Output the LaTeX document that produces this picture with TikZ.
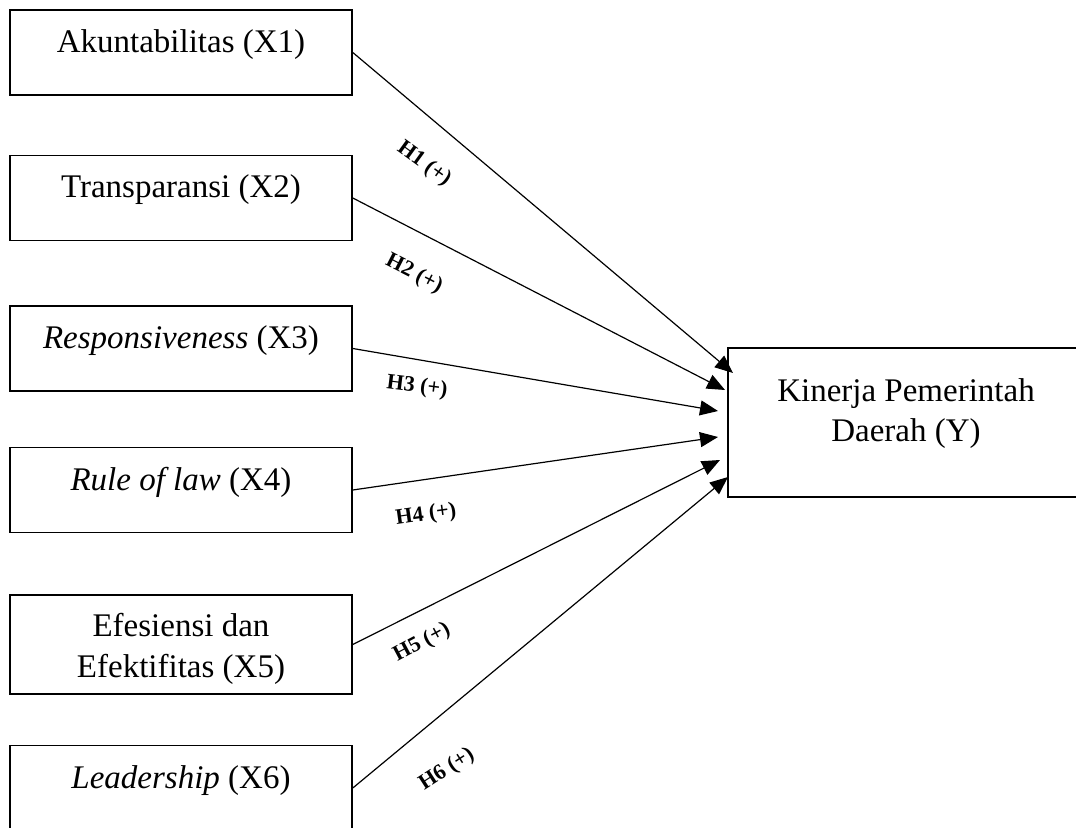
\documentclass[tikz,border=0pt]{standalone}
\usepackage{fontspec}
\setmainfont{Liberation Serif}
\usetikzlibrary{arrows.meta}
\begin{document}
\begin{tikzpicture}[x=0.5pt,y=-0.5pt,
    varbox/.style={rectangle, draw, line width=0.8pt, inner sep=0pt,
        minimum width=171pt, minimum height=42.5pt,
        font=\fontsize{16.5}{20.5}\selectfont, text height=8pt, text depth=8pt},
    hyp/.style={font=\fontsize{11}{13}\selectfont\bfseries, inner sep=0.5pt},
    link/.style={-{Triangle[length=9pt,width=7.5pt]}, line width=0.6pt}]
    \useasboundingbox (0,0) rectangle (1076,828);
    \node[varbox] (akun) at (181,52.5) {Akuntabilitas (X1)};
    \node[varbox] (trans) at (181,198) {Transparansi (X2)};
    \node[varbox] (resp) at (181,348.5) {\textit{Responsiveness} (X3)};
    \node[varbox] (rule) at (181,490) {\textit{Rule of law} (X4)};
    \node[varbox, minimum height=49.5pt, align=center,
        text height=32.5pt, text depth=0pt] (efis) at (181,644.5) {Efesiensi dan\\Efektifitas (X5)};
    \node[varbox] (lead) at (181,788) {\textit{Leadership} (X6)};
    \node[varbox, minimum width=178pt, minimum height=74.5pt, align=center,
        text height=20pt, text depth=0.5pt] (kinerja) at (906,422.5) {Kinerja Pemerintah\\Daerah (Y)};
    \coordinate (in1) at (733,373);
    \coordinate (in2) at (725,390);
    \coordinate (in3) at (718,411);
    \coordinate (in4) at (718,437);
    \coordinate (in5) at (720,460);
    \coordinate (in6) at (728,477);
    \draw[link] (akun.east) to (in1);
    \draw[link] (trans.east) to (in2);
    \draw[link] (resp.east) to (in3);
    \draw[link] (rule.east) to (in4);
    \draw[link] (efis.east) to (in5);
    \draw[link] (lead.east) to (in6);
    \node[hyp, rotate=-36] (h1) at (424,164) {H1 (+)};
    \node[hyp, rotate=-27] (h2) at (414,274) {H2 (+)};
    \node[hyp, rotate=-7] (h3) at (417,387) {H3 (+)};
    \node[hyp, rotate=8] (h4) at (426,515) {H4 (+)};
    \node[hyp, rotate=28] (h5) at (422,643) {H5 (+)};
    \node[hyp, rotate=33] (h6) at (447,770) {H6 (+)};
\end{tikzpicture}
\end{document}
